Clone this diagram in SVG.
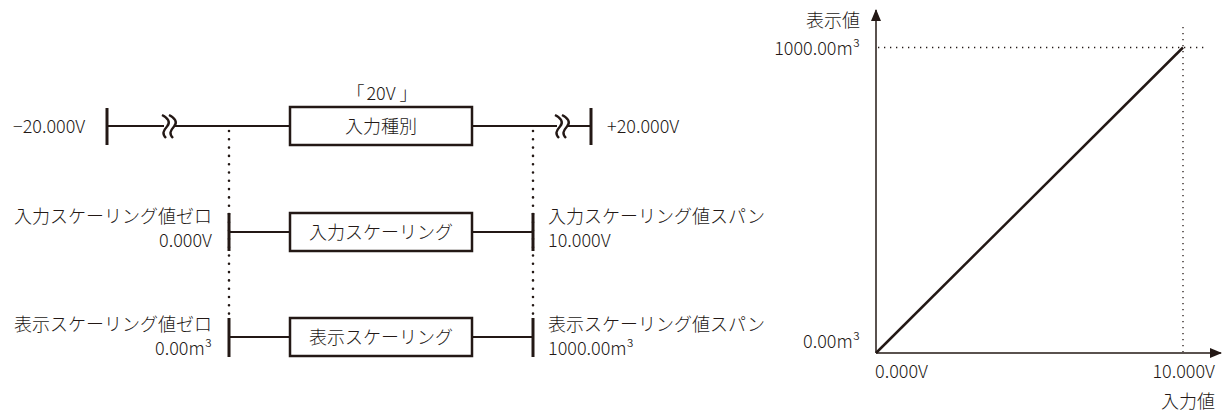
<svg xmlns="http://www.w3.org/2000/svg" width="1228" height="412" viewBox="0 0 1228 412">
<style>
text{font-family:"Noto Sans CJK JP","Noto Sans",sans-serif;font-size:18px;font-weight:300;fill:#231815}
.e{text-anchor:end}
.m{text-anchor:middle}
.ln{stroke:#231815;stroke-width:2;fill:none}
.tk{stroke:#231815;stroke-width:3;fill:none}
.bx{stroke:#231815;stroke-width:2.5;fill:#fff}
.dv{stroke:#231815;stroke-width:2.6;stroke-linecap:round;stroke-dasharray:0 8.3;fill:none}
.dc{stroke:#231815;stroke-width:1.3;stroke-dasharray:1.3 4.7;fill:none}
.ax{stroke:#231815;stroke-width:1.5;fill:none}
.br{stroke:#231815;stroke-width:2.4;fill:none}
</style>
<defs>
<marker id="ah" markerWidth="12" markerHeight="10" refX="11" refY="5" orient="auto" markerUnits="userSpaceOnUse">
<path d="M0,0 L12,5 L0,10 Z" fill="#231815"/>
</marker>
</defs>
<g id="connectors">
<path class="dv" d="M229,131 V318"/>
<path class="dv" d="M533,131 V318"/>
<path class="ln" d="M107,126 H164 M174,126 H290"/>
<path class="ln" d="M472,126 H557 M567,126 H591"/>
<path class="ln" d="M229,232 H290 M472,232 H533"/>
<path class="ln" d="M229,337 H290 M472,337 H533"/>
<g id="break-left">
<path class="br" d="M162,115 C168,118 171,122 167,126.5 C163,131 162,134 166,138"/>
<path class="br" d="M169,115 C175,118 178,122 174,126.5 C170,131 169,134 173,138"/>
</g>
<g id="break-right">
<path class="br" d="M555,115 C561,118 564,122 560,126.5 C556,131 555,134 559,138"/>
<path class="br" d="M562,115 C568,118 571,122 567,126.5 C563,131 562,134 566,138"/>
</g>
</g>
<g id="row1">
<path class="tk" d="M107,108 V145"/>
<path class="tk" d="M591,108 V145"/>
<text x="13" y="133">−20.000V</text>
<text x="607" y="133">+20.000V</text>
<text class="m" x="382" y="100"><tspan>「</tspan><tspan dx="2">20V</tspan><tspan dx="4">」</tspan></text>
</g>
<g id="box-input-type">
<rect class="bx" x="290" y="107" width="182" height="38"/>
<text class="m" x="381" y="133">入力種別</text>
</g>
<g id="row2">
<path class="tk" d="M229,213 V251"/>
<path class="tk" d="M533,213 V251"/>
<text class="e" x="212" y="223">入力スケーリング値ゼロ</text>
<text class="e" x="212" y="247">0.000V</text>
<text x="548" y="223">入力スケーリング値スパン</text>
<text x="548" y="247">10.000V</text>
</g>
<g id="box-input-scaling">
<rect class="bx" x="290" y="213" width="182" height="38"/>
<text class="m" x="381" y="239">入力スケーリング</text>
</g>
<g id="row3">
<path class="tk" d="M229,318 V357"/>
<path class="tk" d="M533,318 V357"/>
<text class="e" x="212" y="331">表示スケーリング値ゼロ</text>
<text class="e" x="212" y="355">0.00m³</text>
<text x="548" y="331">表示スケーリング値スパン</text>
<text x="548" y="355">1000.00m³</text>
</g>
<g id="box-display-scaling">
<rect class="bx" x="290" y="318" width="182" height="38"/>
<text class="m" x="381" y="344">表示スケーリング</text>
</g>
<g id="chart">
<path class="dc" d="M878,47.5 H1205"/>
<path class="dc" d="M1183,27 V352"/>
<path class="ax" d="M876,353 V10" marker-end="url(#ah)"/>
<path class="ax" d="M876,353 H1221" marker-end="url(#ah)"/>
<path stroke="#231815" stroke-width="2.5" fill="none" d="M876,353 L1183,47.5"/>
<text class="e" x="860" y="27">表示値</text>
<text class="e" x="860" y="55">1000.00m³</text>
<text class="e" x="860" y="348">0.00m³</text>
<text x="875" y="378">0.000V</text>
<text class="e" x="1215" y="378">10.000V</text>
<text class="e" x="1215" y="408">入力値</text>
</g>
</svg>
